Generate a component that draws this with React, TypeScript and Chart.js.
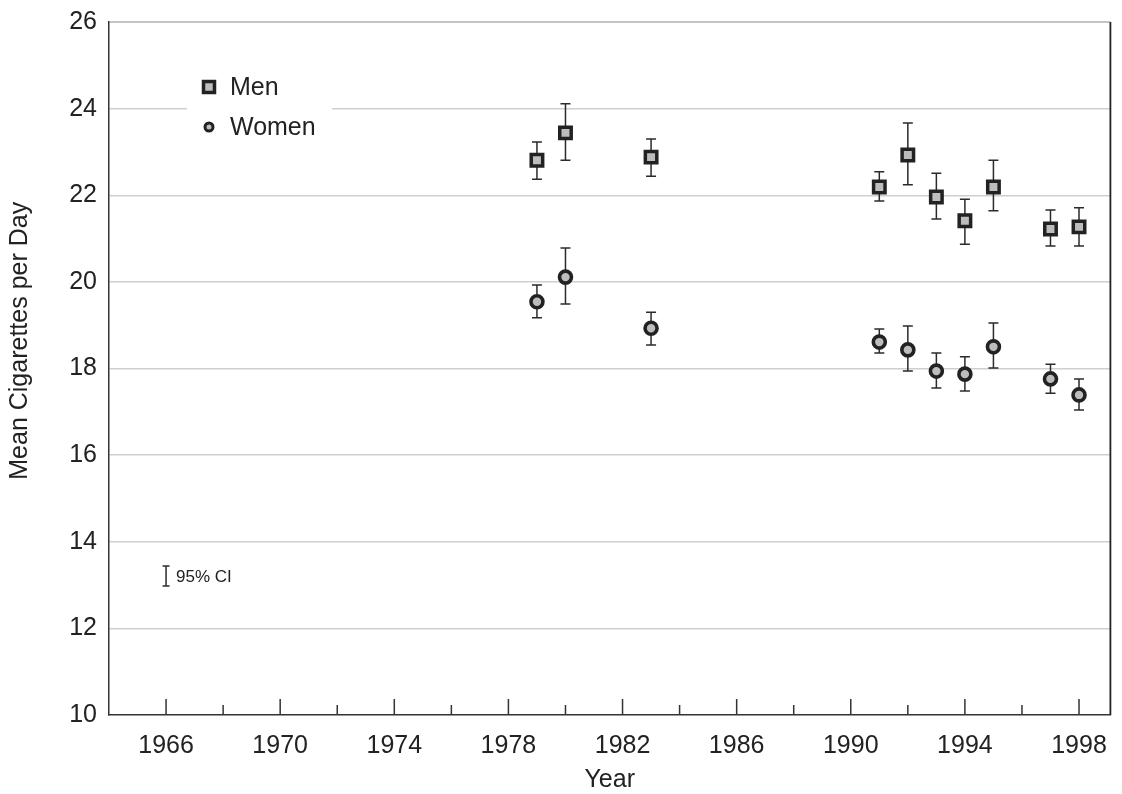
import { useEffect, useRef } from "react";
import { Chart, registerables } from "chart.js";

Chart.register(...registerables);

const years = [1979, 1980, 1983, 1991, 1992, 1993, 1994, 1995, 1997, 1998];
const menMean = [22.81, 23.44, 22.88, 22.19, 22.93, 21.96, 21.41, 22.19, 21.22, 21.27];
const menLow = [22.37, 22.81, 22.44, 21.87, 22.24, 21.45, 20.87, 21.64, 20.83, 20.83];
const menHigh = [23.23, 24.11, 23.3, 22.54, 23.67, 22.51, 21.91, 22.81, 21.66, 21.71];
const womenMean = [19.54, 20.11, 18.93, 18.61, 18.43, 17.94, 17.87, 18.5, 17.76, 17.39];
const womenLow = [19.17, 19.49, 18.54, 18.36, 17.94, 17.55, 17.48, 18.01, 17.43, 17.04];
const womenHigh = [19.93, 20.78, 19.3, 18.91, 18.98, 18.36, 18.27, 19.05, 18.1, 17.76];

const xTickYears = [1966, 1968, 1970, 1972, 1974, 1976, 1978, 1980, 1982, 1984, 1986, 1988, 1990, 1992, 1994, 1996, 1998];
const xLabelYears = [1966, 1970, 1974, 1978, 1982, 1986, 1990, 1994, 1998];
const yTicks = [10, 12, 14, 16, 18, 20, 22, 24, 26];

const ciKeyYear = 1966;
const ciKeyLow = 12.98;
const ciKeyHigh = 13.44;
const ciKeyLabel = "95% CI";
const yTitle = "Mean Cigarettes per Day";

const FONT = "'Liberation Sans', Arial, Helvetica, sans-serif";
const INK = "#222222";
const MARK_FILL = "#bcbdc1";

const errorBarPlugin = {
  id: "errorBars",
  beforeDatasetsDraw(chart: any) {
    const { ctx, scales } = chart;
    const x = scales.x;
    const y = scales.y;
    const groups = [
      [menLow, menHigh],
      [womenLow, womenHigh],
    ];
    ctx.save();
    ctx.strokeStyle = "#2b2b2b";
    ctx.lineWidth = 1.5;
    const bar = (xv: number, lo: number, hi: number, cap: number) => {
      const px = x.getPixelForValue(xv);
      const pt = y.getPixelForValue(hi);
      const pb = y.getPixelForValue(lo);
      ctx.beginPath();
      ctx.moveTo(px, pt);
      ctx.lineTo(px, pb);
      ctx.moveTo(px - cap, pt);
      ctx.lineTo(px + cap, pt);
      ctx.moveTo(px - cap, pb);
      ctx.lineTo(px + cap, pb);
      ctx.stroke();
    };
    years.forEach((yr, i) => {
      groups.forEach(([lo, hi]) => bar(yr, lo[i], hi[i], 5));
    });
    bar(ciKeyYear, ciKeyLow, ciKeyHigh, 3.5);
    ctx.fillStyle = INK;
    ctx.font = `17px ${FONT}`;
    ctx.textAlign = "left";
    ctx.textBaseline = "middle";
    ctx.fillText(
      ciKeyLabel,
      x.getPixelForValue(ciKeyYear) + 10,
      y.getPixelForValue((ciKeyLow + ciKeyHigh) / 2) + 1
    );
    ctx.restore();
  },
};

const framePlugin = {
  id: "frame",
  afterDatasetsDraw(chart: any) {
    const { ctx, chartArea, scales } = chart;
    const x = scales.x;
    ctx.save();
    // inward tick marks on x axis
    ctx.strokeStyle = "#333333";
    ctx.lineWidth = 1.5;
    xTickYears.forEach((yr) => {
      const px = x.getPixelForValue(yr);
      const len = xLabelYears.includes(yr) ? 16 : 10;
      ctx.beginPath();
      ctx.moveTo(px, chartArea.bottom);
      ctx.lineTo(px, chartArea.bottom - len);
      ctx.stroke();
    });
    // top and right frame
    ctx.strokeStyle = "#8a8a8a";
    ctx.lineWidth = 1.2;
    ctx.beginPath();
    ctx.moveTo(chartArea.left, chartArea.top);
    ctx.lineTo(chartArea.right, chartArea.top);
    ctx.stroke();
    ctx.strokeStyle = "#222222";
    ctx.lineWidth = 1.8;
    ctx.beginPath();
    ctx.moveTo(chartArea.right, chartArea.top);
    ctx.lineTo(chartArea.right, chartArea.bottom);
    ctx.stroke();
    ctx.restore();

    // y axis title (placed slightly above centre, as in the original)
    ctx.save();
    ctx.fillStyle = INK;
    ctx.font = `25px ${FONT}`;
    ctx.textAlign = "center";
    ctx.textBaseline = "middle";
    ctx.translate(20, chartArea.top + (chartArea.bottom - chartArea.top) * 0.46);
    ctx.rotate(-Math.PI / 2);
    ctx.fillText(yTitle, 0, 0);
    ctx.restore();

    // legend
    ctx.save();
    const lx = chartArea.left + 78;
    const ly = chartArea.top + 44;
    ctx.fillStyle = "#ffffff";
    ctx.fillRect(lx, ly, 145, 84);
    const ds = chart.data.datasets;
    ctx.font = `25px ${FONT}`;
    ctx.textAlign = "left";
    ctx.textBaseline = "middle";
    // Men marker
    ctx.fillStyle = MARK_FILL;
    ctx.strokeStyle = INK;
    ctx.lineWidth = 3.5;
    ctx.beginPath();
    ctx.rect(lx + 22 - 5.5, ly + 21 - 5.5, 11, 11);
    ctx.fill();
    ctx.stroke();
    ctx.fillStyle = INK;
    ctx.fillText(ds[0].label, lx + 43, ly + 22);
    // Women marker
    ctx.fillStyle = MARK_FILL;
    ctx.lineWidth = 3;
    ctx.beginPath();
    ctx.arc(lx + 22, ly + 61, 4, 0, Math.PI * 2);
    ctx.fill();
    ctx.stroke();
    ctx.fillStyle = INK;
    ctx.fillText(ds[1].label, lx + 43, ly + 62);
    ctx.restore();
  },
};

export default function App() {
  const ref = useRef<HTMLCanvasElement | null>(null);
  useEffect(() => {
    document.body.style.margin = "0";
    if (!ref.current) return;
    const chart = new Chart(ref.current, {
      type: "scatter",
      data: {
        datasets: [
          {
            label: "Men",
            data: years.map((yr, i) => ({ x: yr, y: menMean[i] })),
            pointStyle: "rect",
            pointRadius: 8.1,
            pointHoverRadius: 8.1,
            pointBackgroundColor: MARK_FILL,
            pointBorderColor: INK,
            pointBorderWidth: 3.5,
            pointHoverBorderWidth: 3.5,
          },
          {
            label: "Women",
            data: years.map((yr, i) => ({ x: yr, y: womenMean[i] })),
            pointStyle: "circle",
            pointRadius: 6,
            pointHoverRadius: 6,
            pointBackgroundColor: MARK_FILL,
            pointBorderColor: INK,
            pointBorderWidth: 3.6,
            pointHoverBorderWidth: 3.6,
          },
        ],
      },
      options: {
        animation: false,
        responsive: true,
        maintainAspectRatio: false,
        layout: { padding: { top: 22, right: 8, left: 0, bottom: 0 } },
        plugins: {
          legend: { display: false },
          tooltip: { enabled: false },
        },
        scales: {
          x: {
            type: "linear",
            min: 1964,
            max: 1999.1,
            afterBuildTicks: (scale: any) => {
              scale.ticks = xTickYears.map((v) => ({ value: v }));
            },
            afterFit: (scale: any) => {
              scale.height = 79;
              scale.paddingLeft = 0;
              scale.paddingRight = 0;
            },
            grid: { display: false, drawTicks: false },
            border: { display: true, color: "#333333", width: 1.5 },
            ticks: {
              autoSkip: false,
              maxRotation: 0,
              padding: 16,
              color: INK,
              font: { family: FONT, size: 25 },
              callback: (v: any) => (xLabelYears.includes(Number(v)) ? String(v) : ""),
            },
            title: {
              display: true,
              text: "Year",
              color: INK,
              font: { family: FONT, size: 25 },
              padding: { top: 0, bottom: -1 },
            },
          },
          y: {
            type: "linear",
            min: 10,
            max: 26,
            afterBuildTicks: (scale: any) => {
              scale.ticks = yTicks.map((v) => ({ value: v }));
            },
            afterFit: (scale: any) => {
              scale.width = 109;
              scale.paddingTop = 0;
              scale.paddingBottom = 0;
            },
            grid: {
              drawTicks: false,
              lineWidth: 1.5,
              color: (c: any) =>
                c.tick && (c.tick.value === 10 || c.tick.value === 26) ? "rgba(0,0,0,0)" : "#cfcfcf",
            },
            border: { display: true, color: "#333333", width: 1.5 },
            ticks: {
              padding: 12,
              color: INK,
              font: { family: FONT, size: 25 },
            },
            title: { display: false },
          },
        },
      },
      plugins: [errorBarPlugin, framePlugin],
    });
    return () => chart.destroy();
  }, []);
  return (
    <div style={{ width: 1122, height: 794, position: "relative" }}>
      <canvas ref={ref} />
    </div>
  );
}
